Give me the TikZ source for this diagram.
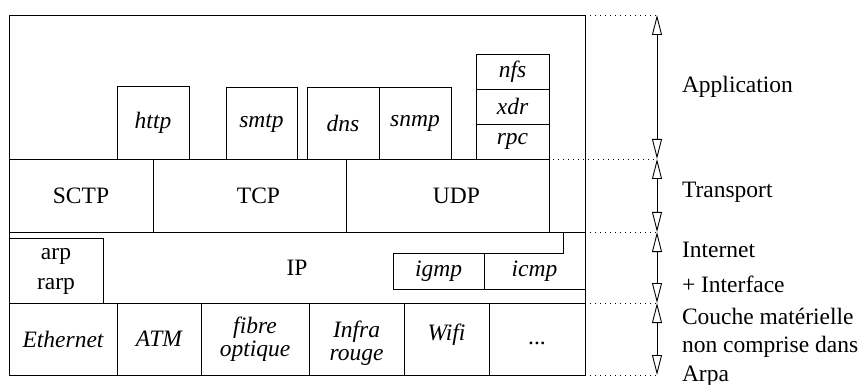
\documentclass[tikz,border=0pt]{standalone}
\usepackage{fontspec}
\setmainfont{Liberation Serif}
\usetikzlibrary{fit,arrows.meta}
\newcommand\rmtext{\fontsize{23.5}{26}\selectfont}
\newcommand\ittext{\fontsize{23.5}{23}\selectfont\itshape}
\begin{document}
\begin{tikzpicture}[x=1pt,y=-1pt,
  every node/.style={font=\rmtext, inner sep=0pt, outer sep=0pt},
  cell/.style={draw, line width=0.9pt},
  rt/.style={label={[font=\rmtext, align=center]center:#1}},
  it/.style={label={[font=\ittext, align=center]center:#1}},
  line/.style={line width=0.9pt},
  guide/.style={line width=0.9pt, dash pattern=on 1pt off 4pt},
  span/.style={line width=0.9pt, {Triangle[open,length=20pt,width=10pt]}-{Triangle[open,length=20pt,width=10pt]}},
  lay/.style={anchor=west, align=left}]
\useasboundingbox (0,0) rectangle (863,385);
% outer frame
\node[cell, fit={(9,15)(585,375)}] (frame) {};
% application layer
\node[cell, it=http, fit={(117,86)(189,159)}] (http) {};
\node[cell, it=smtp, fit={(226,87)(297,159)}] (smtp) {};
\node[cell, it=dns, fit={(307,87)(379,159)}] (dns) {};
\node[cell, it=snmp, fit={(379,87)(451,159)}] (snmp) {};
\node[cell, it=nfs, fit={(476,54)(549,89)}] (nfs) {};
\node[cell, it=xdr, fit={(476,89)(549,124)}] (xdr) {};
\node[cell, it=rpc, fit={(476,124)(549,159)}] (rpc) {};
% transport layer
\node[cell, rt=SCTP, fit={(9,159)(153,232)}] (sctp) {};
\node[cell, fit={(153,159)(346,232)}, label={[xshift=9pt]center:TCP}] (tcp) {};
\node[cell, fit={(346,159)(549,232)}, label={[xshift=9pt]center:UDP}] (udp) {};
% internet layer
\node[cell, rt=IP, fit={(9,232)(585,303)}] (ip) {};
\node[cell, fit={(9,238)(103,303)}, label={[font=\fontsize{23.5}{30}\selectfont, align=center, yshift=-1pt]center:arp\\rarp}] (arp) {};
\node[cell, it=igmp, fit={(393,253)(484,289)}] (igmp) {};
\node[it=icmp, fit={(484,253)(585,289)}] (icmp) {};
\coordinate (kink) at (563,253);
\draw[line] (icmp.south west) -- (icmp.south east);
\draw[line] (igmp.north east) -- (kink) -- (kink |- ip.north);
% hardware layer
\node[cell, it=Ethernet, fit={(9,303)(117,375)}] (eth) {};
\node[cell, it=ATM, fit={(117,303)(201,375)}] (atm) {};
\node[cell, it={fibre\\optique}, fit={(201,303)(309,375)}] (fibre) {};
\node[cell, fit={(309,303)(404,375)}, label={[yshift=-4pt,font=\ittext,align=center]center:Infra\\rouge}] (infra) {};
\node[cell, fit={(404,303)(489,375)}, label={[yshift=4pt,font=\ittext]center:Wifi}] (wifi) {};
\node[cell, fit={(489,303)(585,375)}, label={[yshift=-4pt]center:...}] (more) {};
% guides
\coordinate (g0) at (657,15);
\coordinate (g1) at (657,159);
\coordinate (g2) at (657,232);
\coordinate (g3) at (657,303);
\coordinate (g4) at (657,375);
\draw[guide] (frame.north east) -- (g0);
\draw[guide] ([xshift=4pt]udp.north east) -- (g1);
\draw[guide] (ip.north east) -- (g2);
\draw[guide] (ip.south east) -- (g3);
\draw[guide] (frame.south east) -- (g4);
\draw[span] (g0) -- (g1);
\draw[span] (g1) -- (g2);
\draw[span] (g2) -- (g3);
\draw[span] (g3) -- (g4);
% layer names
\node[lay] (lapp) at (682,87) {Application};
\node[lay] (ltr) at (682,192) {Transport};
\node[lay, font=\fontsize{23.5}{35}\selectfont] (lint) at (682,267.5) {Internet\\+ Interface};
\node[lay, font=\fontsize{23.5}{28.5}\selectfont] (lphy) at (682,347) {Couche matérielle\\non comprise dans\\Arpa};
\end{tikzpicture}
\end{document}
